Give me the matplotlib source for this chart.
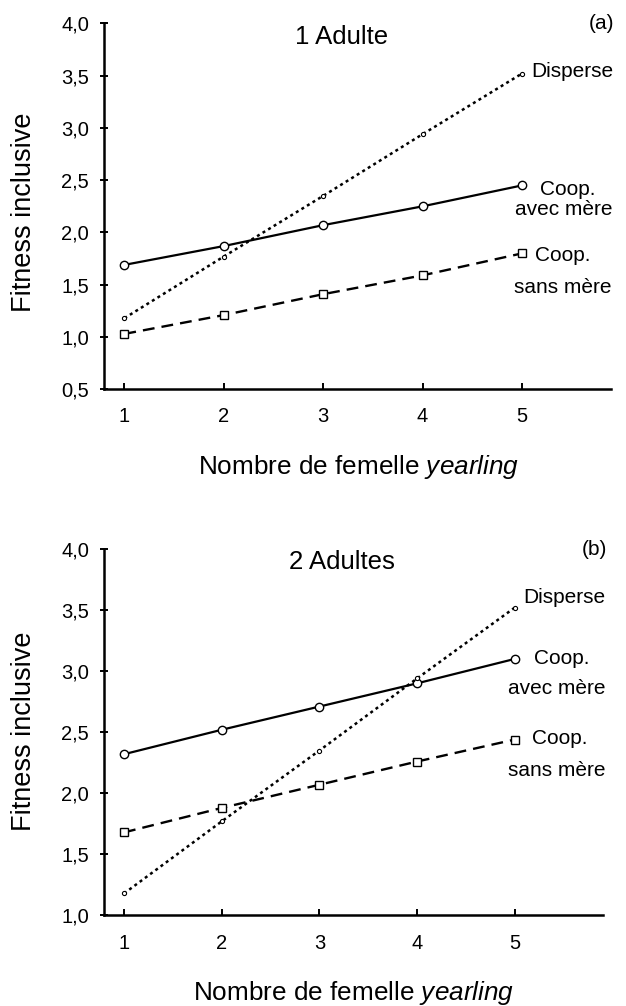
import numpy as np
import matplotlib.pyplot as plt
from matplotlib.ticker import FuncFormatter

plt.rcParams['font.family'] = ['Liberation Sans', 'DejaVu Sans']
plt.rcParams['mathtext.fontset'] = 'custom'
plt.rcParams['mathtext.it'] = 'Liberation Sans:italic'
plt.rcParams['mathtext.rm'] = 'Liberation Sans'

# nombre de femelles yearling
yearlings = [1, 2, 3, 4, 5]

# (a) 1 adulte
avec_mere_1 = [1.69, 1.87, 2.07, 2.25, 2.45]
sans_mere_1 = [1.03, 1.21, 1.41, 1.59, 1.80]
disperse_1 = [1.18, 1.77, 2.35, 2.94, 3.52]

# (b) 2 adultes
avec_mere_2 = [2.32, 2.52, 2.71, 2.90, 3.10]
sans_mere_2 = [1.68, 1.88, 2.07, 2.26, 2.44]
disperse_2 = [1.18, 1.77, 2.35, 2.94, 3.52]

yticks_1 = [0.5, 1.0, 1.5, 2.0, 2.5, 3.0, 3.5, 4.0]
yticks_2 = [1.0, 1.5, 2.0, 2.5, 3.0, 3.5, 4.0]

comma = FuncFormatter(lambda v, pos: f"{v:.1f}".replace('.', ','))


def draw_panel(ax, avec, sans, disp, yticks):
    ax.plot(yearlings, avec, color='black', lw=1.6, marker='o', ms=6,
            mfc='white', mec='black', mew=1.0, zorder=3)
    ax.plot(yearlings, sans, color='black', lw=1.7, dashes=(5.0, 3.0),
            marker='s', ms=5.2, mfc='white', mec='black', mew=1.0, zorder=3)
    ax.plot(yearlings, disp, color='black', lw=1.8, dashes=(1.2, 1.4),
            marker='o', ms=3, mfc='white', mec='black', mew=0.8, zorder=3)
    ax.set_xlim(0.8, 5.9)
    ax.set_ylim(yticks[0], yticks[-1])
    ax.set_xticks(yearlings)
    ax.set_yticks(yticks)
    ax.yaxis.set_major_formatter(comma)
    for side in ['top', 'right']:
        ax.spines[side].set_visible(False)
    for side in ['left', 'bottom']:
        ax.spines[side].set_linewidth(1.8)
    ax.tick_params(axis='x', direction='in', length=4, width=1.4, pad=13, labelsize=14.5)
    ax.tick_params(axis='y', direction='inout', length=6, width=1.4, pad=8, labelsize=14.5)


fig = plt.figure(figsize=(6.26, 10.06), dpi=100)
ax1 = fig.add_axes([0.1669, 0.6130, 0.8099, 0.3638])
ax2 = fig.add_axes([0.1669, 0.0900, 0.7958, 0.3643])

draw_panel(ax1, avec_mere_1, sans_mere_1, disperse_1, yticks_1)
draw_panel(ax2, avec_mere_2, sans_mere_2, disperse_2, yticks_2)

# series labels
lab = dict(fontsize=15, va='center', clip_on=False)
ax1.text(5.09, 3.54, 'Disperse', ha='left', **lab)
ax1.text(5.465, 2.41, 'Coop.', ha='center', **lab)
ax1.text(5.42, 2.215, 'avec mère', ha='center', **lab)
ax1.text(5.405, 1.78, 'Coop.', ha='center', **lab)
ax1.text(5.405, 1.475, 'sans mère', ha='center', **lab)

ax2.text(5.09, 3.60, 'Disperse', ha='left', **lab)
ax2.text(5.48, 3.10, 'Coop.', ha='center', **lab)
ax2.text(5.43, 2.86, 'avec mère', ha='center', **lab)
ax2.text(5.46, 2.45, 'Coop.', ha='center', **lab)
ax2.text(5.43, 2.19, 'sans mère', ha='center', **lab)

# titres et lettres des panneaux
fig.text(0.5455, 0.9635, '1 Adulte', ha='center', va='center', fontsize=18.5)
fig.text(0.961, 0.9768, '(a)', ha='center', va='center', fontsize=15)
fig.text(0.547, 0.4417, '2 Adultes', ha='center', va='center', fontsize=18.5)
fig.text(0.949, 0.4533, '(b)', ha='center', va='center', fontsize=15)

xlab = 'Nombre de femelle $\\mathit{yearling}$'
fig.text(0.5735, 0.5361, xlab, ha='center', va='center', fontsize=18.8)
fig.text(0.5647, 0.0126, xlab, ha='center', va='center', fontsize=18.8)
fig.text(0.0379, 0.7888, 'Fitness inclusive', rotation=90, ha='center', va='center', fontsize=19.5)
fig.text(0.0379, 0.2734, 'Fitness inclusive', rotation=90, ha='center', va='center', fontsize=19.5)

fig.savefig('out.png', dpi=100, facecolor='white')
